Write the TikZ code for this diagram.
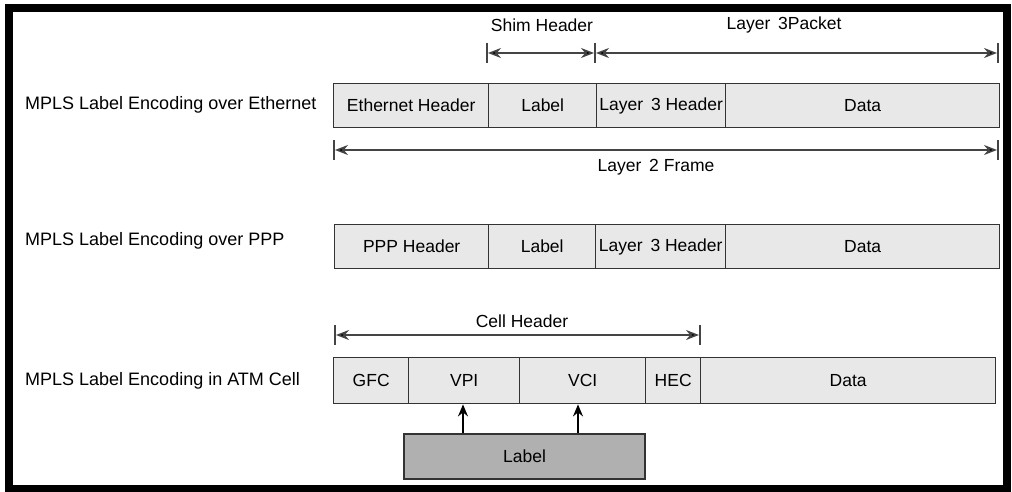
\documentclass[tikz,border=0pt]{standalone}
\usepackage{fontspec}
\setmainfont{Liberation Sans}
\usetikzlibrary{arrows.meta}
\definecolor{cellfill}{HTML}{E8E8E8}
\definecolor{labelfill}{HTML}{B0B0B0}
\definecolor{edgecol}{HTML}{333333}
\definecolor{dimcol}{HTML}{444444}
\newcommand\widesp{\hspace{0.45em}}
\tikzset{
  cellbox/.style={draw=edgecol, fill=cellfill, line width=1.4pt, inner sep=0pt,
    anchor=north west, font=\fontsize{17.5}{20}\selectfont},
  shimbox/.style={draw=edgecol, fill=labelfill, line width=2pt, inner sep=0pt,
    anchor=north west, font=\fontsize{17.5}{20}\selectfont},
  rowtext/.style={anchor=west, inner sep=0pt, font=\fontsize{18}{21}\selectfont},
  dimtext/.style={inner sep=0pt, font=\fontsize{17.5}{20}\selectfont},
  dimline/.style={draw=dimcol, line width=1.5pt,
    {Stealth[length=13pt,width=10pt,fill=black]}-{Stealth[length=13pt,width=10pt,fill=black]}},
  tick/.style={draw=dimcol, line width=1.5pt},
  uparrow/.style={draw=black, line width=1.5pt, -{Stealth[length=12pt,width=10pt]}},
}
% one field of a frame: name, left, right, top, bottom, text
\newcommand\field[7][cellbox]{%
  \node[#1, minimum width={(#4-#3)*1pt}, minimum height={(#6-#5)*1pt}] (#2) at (#3,#5) {#7};}
\newcommand\tickmark[3]{%
  \coordinate (#1) at (#2,#3);
  \draw[tick] (#2,#3-10) -- (#2,#3+10);}
\begin{document}
\begin{tikzpicture}[x=1pt,y=-1pt]
\useasboundingbox (0,0) rectangle (1012,492);
\fill[white] (0,0) rectangle (1012,492);
\draw[line width=8pt] (8.5,8) rectangle (1007,488.5);

% row titles
\node[rowtext] (t1) at (25,105) {MPLS Label Encoding over Ethernet};
\node[rowtext] (t2) at (25,241) {MPLS Label Encoding over PPP};
\node[rowtext] (t3) at (25,381) {MPLS Label Encoding in ATM Cell};

% Ethernet frame
\field{eh}{333}{488}{83}{127}{Ethernet Header}
\field{el}{488}{596}{83}{127}{Label}
\field{el3}{596}{725}{83}{127}{Layer\widesp3 Header}
\field{ed}{725}{999}{83}{127}{Data}

% Shim header / layer 3 packet dimensions
\node[dimtext] (shimtxt) at (542,25) {Shim Header};
\node[dimtext] (l3txt) at (784,25) {Layer\widesp3Packet};
\tickmark{s1}{487}{53}
\tickmark{s2}{595}{53}
\tickmark{s3}{998}{53}
\draw[dimline] ([xshift=1pt]s1) -- ([xshift=-1pt]s2);
\draw[dimline] ([xshift=1pt]s2) -- ([xshift=-1pt]s3);

% Layer 2 frame dimension
\tickmark{f1}{334}{150}
\tickmark{f2}{998}{150}
\draw[dimline] ([xshift=1pt]f1) -- ([xshift=-1pt]f2);
\node[dimtext] (l2txt) at (656,167) {Layer\widesp2 Frame};

% PPP frame
\field{ph}{334}{488}{224}{268}{PPP Header}
\field{pl}{488}{595}{224}{268}{Label}
\field{pl3}{595}{725}{224}{268}{Layer\widesp3 Header}
\field{pd}{725}{999}{224}{268}{Data}

% ATM cell header dimension
\node[dimtext] (celltxt) at (522,321) {Cell Header};
\tickmark{c1}{335}{335}
\tickmark{c2}{700}{335}
\draw[dimline] ([xshift=1pt]c1) -- ([xshift=-1pt]c2);

% ATM cell
\field{ag}{333}{408}{357}{403}{GFC}
\field{avpi}{408}{519}{357}{403}{VPI}
\field{avci}{519}{645}{357}{403}{VCI}
\field{ahec}{645}{700}{357}{403}{HEC}
\field{ad}{700}{995}{357}{403}{Data}

% label carried in VPI/VCI
\field[shimbox]{lab}{403}{644}{433}{478}{Label}
\draw[uparrow] (lab.north -| 463,0) -- (avpi.south -| 463,0);
\draw[uparrow] (lab.north -| 578,0) -- (avci.south -| 578,0);
\end{tikzpicture}
\end{document}
